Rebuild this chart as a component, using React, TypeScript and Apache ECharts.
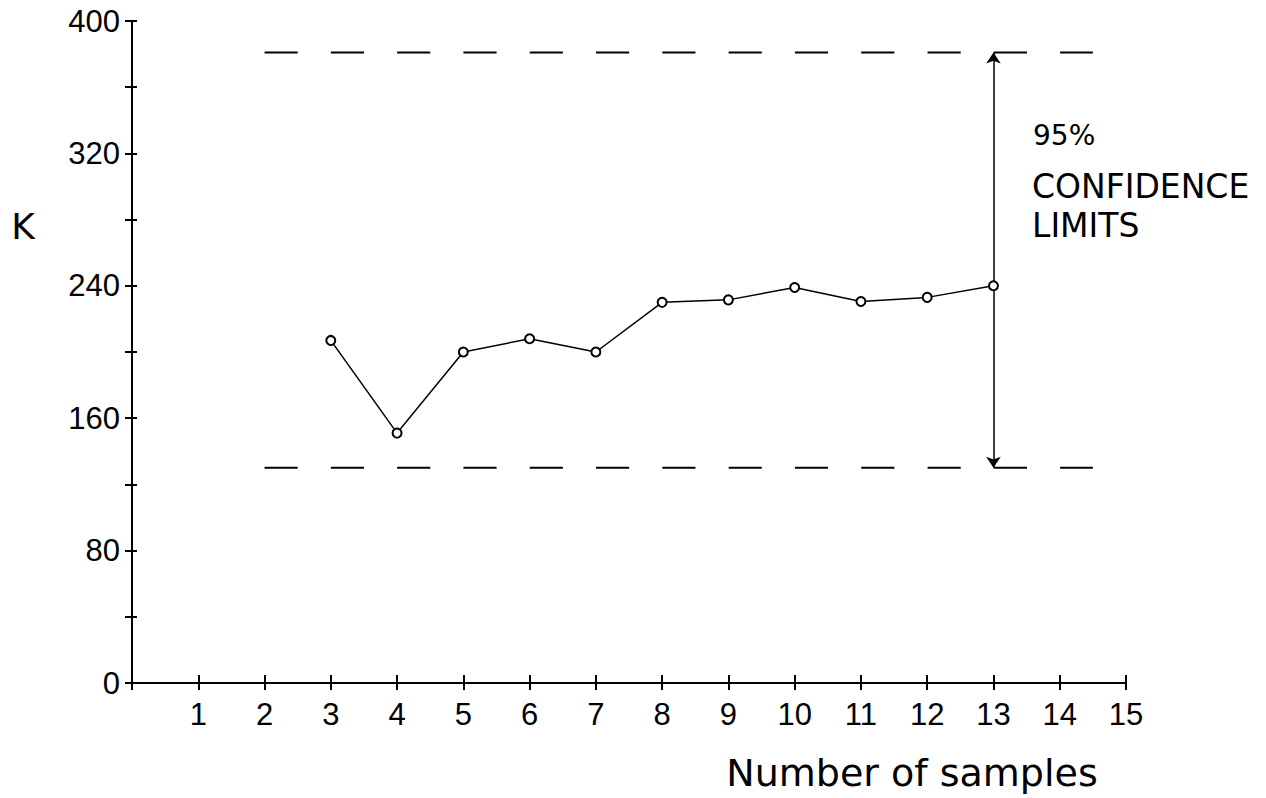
import React, { useEffect, useRef } from "react";
import * as echarts from "echarts";

// Data
const sampleCounts = [3, 4, 5, 6, 7, 8, 9, 10, 11, 12, 13];
const kValues = [207, 151, 200, 208, 200, 230, 231.5, 239, 230.5, 233, 240];
const upperLimit = 381;
const lowerLimit = 130;
const limitStartX = 2;
const limitEndX = 14.5;
const arrowX = 13;
const xMin = 0;
const xMax = 15;
const xStep = 1;
const yMin = 0;
const yMax = 400;
const yStep = 40;
const yLabelStep = 80;

const annotationLines = ["95%", "CONFIDENCE", "LIMITS"];
const yAxisTitle = "K";
const xAxisTitle = "Number of samples";

export default function App() {
  const ref = useRef<HTMLDivElement>(null);

  useEffect(() => {
    if (!ref.current) return;
    const chart = echarts.init(ref.current, undefined, { renderer: "svg" });
    const tickFont = { fontFamily: "Liberation Sans", fontSize: 31, color: "#000" };
    const axisBase = { lineStyle: { color: "#000", width: 2 } };

    const option: any = {
      animation: false,
      backgroundColor: "#fff",
      grid: { left: 132, right: 140, top: 21, bottom: 115, containLabel: false },
      xAxis: [
        {
          type: "value",
          min: xMin,
          max: xMax,
          interval: xStep,
          axisLine: { show: true, ...axisBase },
          axisTick: { show: true, inside: false, length: 7, lineStyle: { color: "#000", width: 2 } },
          axisLabel: {
            ...tickFont,
            margin: 16,
            formatter: (v: number) => (v === 0 ? "" : String(v)),
          },
          splitLine: { show: false },
        },
        {
          type: "value",
          min: xMin,
          max: xMax,
          interval: xStep,
          position: "bottom",
          offset: 0,
          axisLine: { show: true, ...axisBase },
          axisTick: { show: true, inside: true, length: 8, lineStyle: { color: "#000", width: 2 } },
          axisLabel: { show: false },
          splitLine: { show: false },
        },
      ],
      yAxis: [
        {
          type: "value",
          min: yMin,
          max: yMax,
          interval: yStep,
          axisLine: { show: true, ...axisBase },
          axisTick: { show: true, inside: false, length: 7, lineStyle: { color: "#000", width: 2 } },
          axisLabel: {
            ...tickFont,
            margin: 12,
            formatter: (v: number) => (v % yLabelStep === 0 ? String(v) : ""),
          },
          splitLine: { show: false },
        },
        {
          type: "value",
          min: yMin,
          max: yMax,
          interval: yStep,
          position: "left",
          offset: 0,
          axisLine: { show: true, ...axisBase },
          axisTick: { show: true, inside: true, length: 5, lineStyle: { color: "#000", width: 2 } },
          axisLabel: { show: false },
          splitLine: { show: false },
        },
      ],
      series: [
        {
          name: "Upper limit",
          type: "line",
          data: [
            [limitStartX, upperLimit],
            [limitEndX, upperLimit],
          ],
          symbol: "none",
          lineStyle: { color: "#000", width: 2, type: [33.15, 33.15] },
          z: 1,
        },
        {
          name: "Lower limit",
          type: "line",
          data: [
            [limitStartX, lowerLimit],
            [limitEndX, lowerLimit],
          ],
          symbol: "none",
          lineStyle: { color: "#000", width: 2, type: [33.15, 33.15] },
          z: 1,
        },
        {
          name: "Confidence range",
          type: "lines",
          coordinateSystem: "cartesian2d",
          data: [
            {
              coords: [
                [arrowX, upperLimit],
                [arrowX, lowerLimit],
              ],
            },
          ],
          symbol: ["arrow", "arrow"],
          symbolSize: 11,
          lineStyle: { color: "#000", width: 1.5, opacity: 1 },
          z: 2,
        },
        {
          name: "K",
          type: "line",
          data: sampleCounts.map((x, i) => [x, kValues[i]]),
          symbol: "circle",
          symbolSize: 9,
          showSymbol: true,
          itemStyle: { color: "#fff", borderColor: "#000", borderWidth: 2 },
          lineStyle: { color: "#000", width: 1.5 },
          z: 5,
        },
      ],
      graphic: [
        {
          type: "text",
          x: 23,
          y: 226,
          style: {
            text: yAxisTitle,
            fontFamily: "DejaVu Sans",
            fontSize: 36,
            fill: "#000",
            textAlign: "center",
            textVerticalAlign: "middle",
          },
        },
        {
          type: "text",
          x: 1033,
          y: 135,
          style: {
            text: annotationLines[0],
            fontFamily: "DejaVu Sans",
            fontSize: 28,
            fill: "#000",
            textAlign: "left",
            textVerticalAlign: "middle",
          },
        },
        {
          type: "text",
          x: 1032,
          y: 186,
          style: {
            text: annotationLines[1],
            fontFamily: "DejaVu Sans",
            fontSize: 33,
            fill: "#000",
            textAlign: "left",
            textVerticalAlign: "middle",
          },
        },
        {
          type: "text",
          x: 1032,
          y: 225,
          style: {
            text: annotationLines[2],
            fontFamily: "DejaVu Sans",
            fontSize: 33,
            fill: "#000",
            textAlign: "left",
            textVerticalAlign: "middle",
          },
        },
        {
          type: "text",
          x: 912,
          y: 773,
          style: {
            text: xAxisTitle,
            fontFamily: "DejaVu Sans",
            fontSize: 38,
            fill: "#000",
            textAlign: "center",
            textVerticalAlign: "middle",
          },
        },
      ],
    };

    chart.setOption(option);
    return () => {
      chart.dispose();
    };
  }, []);

  return (
    <div
      ref={ref}
      style={{ position: "fixed", left: 0, top: 0, width: 1266, height: 798, background: "#fff" }}
    />
  );
}
